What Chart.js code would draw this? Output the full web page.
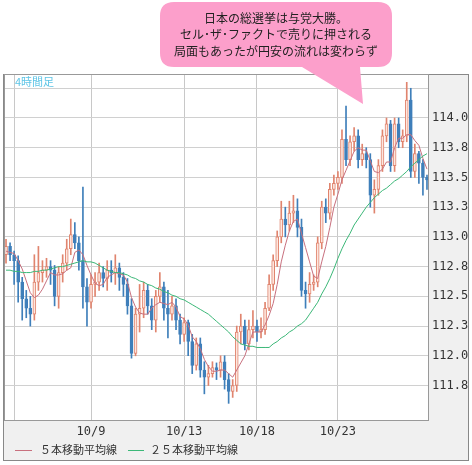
<!DOCTYPE html>
<html><head><meta charset="utf-8">
<script src="https://cdn.jsdelivr.net/npm/chart.js@4"></script>
<style>html,body{margin:0;padding:0;background:#fff}#wrap{width:472px;height:465px;position:relative}</style>
</head><body><div id="wrap"><canvas id="c" width="472" height="465"></canvas></div>
<script>
const opens=[112.85,112.92,112.85,112.80,112.62,112.48,112.40,112.35,112.62,112.70,112.72,112.75,112.72,112.50,112.70,112.78,112.90,113.02,112.95,112.80,112.58,112.45,112.60,112.62,112.70,112.65,112.72,112.70,112.74,112.66,112.60,112.42,112.02,112.35,112.40,112.55,112.42,112.30,112.50,112.58,112.40,112.35,112.42,112.30,112.18,112.28,112.12,111.92,112.10,111.88,111.82,111.85,111.90,111.88,111.95,111.80,111.70,111.75,112.20,112.25,112.10,112.22,112.25,112.20,112.22,112.40,112.60,112.80,113.00,113.15,113.10,113.20,113.22,113.08,112.55,112.52,112.60,112.62,112.95,113.25,113.20,113.40,113.45,113.50,113.82,113.65,113.80,113.85,113.65,113.70,113.65,113.35,113.40,113.60,113.85,113.95,113.60,113.95,113.80,113.85,114.15,113.55,113.70,113.62,113.50];
const closes=[112.92,112.85,112.80,112.62,112.48,112.40,112.35,112.62,112.70,112.72,112.75,112.72,112.50,112.70,112.78,112.90,113.02,112.95,112.80,112.58,112.45,112.60,112.62,112.70,112.65,112.72,112.70,112.74,112.66,112.60,112.42,112.02,112.35,112.40,112.55,112.42,112.30,112.50,112.58,112.40,112.35,112.42,112.30,112.18,112.28,112.12,111.92,112.10,111.88,111.82,111.85,111.90,111.88,111.95,111.80,111.70,111.75,112.20,112.25,112.10,112.22,112.25,112.20,112.22,112.40,112.60,112.80,113.00,113.15,113.10,113.20,113.22,113.08,112.55,112.52,112.60,112.62,112.95,113.25,113.20,113.40,113.45,113.50,113.82,113.65,113.80,113.85,113.65,113.70,113.65,113.35,113.40,113.60,113.85,113.95,113.60,113.95,113.80,113.85,114.15,113.55,113.70,113.62,113.50,113.48];
const highs=[112.98,112.95,112.88,112.84,112.66,112.55,112.50,112.85,112.92,112.80,112.82,112.80,112.76,112.75,112.85,112.98,113.15,113.12,113.00,113.42,112.65,112.68,112.70,112.78,112.75,112.80,112.80,112.85,112.78,112.70,112.65,112.48,112.40,112.60,112.62,112.60,112.48,112.55,112.70,112.62,112.55,112.50,112.48,112.35,112.32,112.30,112.18,112.15,112.15,111.95,111.92,111.95,111.94,112.00,112.00,111.85,111.80,112.25,112.35,112.30,112.30,112.38,112.30,112.32,112.45,112.68,112.85,113.05,113.30,113.25,113.30,113.35,113.32,113.15,112.62,112.70,112.68,113.00,113.30,113.32,113.45,113.52,113.55,113.90,114.10,113.85,113.92,113.90,113.78,113.75,113.70,113.48,113.65,113.90,114.00,113.98,114.00,114.00,113.90,114.30,114.25,113.78,113.72,113.65,113.52];
const lows=[112.78,112.80,112.60,112.45,112.30,112.32,112.25,112.30,112.55,112.62,112.66,112.60,112.42,112.40,112.62,112.72,112.85,112.90,112.72,112.40,112.25,112.40,112.50,112.55,112.58,112.55,112.62,112.60,112.55,112.50,112.35,111.98,112.00,112.20,112.32,112.35,112.22,112.20,112.45,112.30,112.15,112.30,112.22,112.10,112.12,112.00,111.85,111.88,111.82,111.68,111.75,111.82,111.80,111.82,111.72,111.60,111.65,111.70,112.10,112.05,112.05,112.15,112.12,112.15,112.18,112.38,112.55,112.75,112.95,113.00,113.05,113.12,113.00,112.50,112.40,112.45,112.55,112.58,112.90,113.12,113.15,113.35,113.40,113.45,113.60,113.60,113.72,113.58,113.60,113.58,113.25,113.20,113.35,113.55,113.80,113.55,113.55,113.75,113.75,113.80,113.50,113.50,113.45,113.35,113.40];
const ma5=[112.88,112.87,112.86,112.80,112.73,112.63,112.53,112.49,112.51,112.56,112.63,112.70,112.68,112.68,112.69,112.72,112.74,112.87,112.89,112.85,112.76,112.68,112.61,112.59,112.60,112.66,112.68,112.70,112.69,112.68,112.62,112.49,112.41,112.36,112.35,112.35,112.40,112.43,112.45,112.44,112.43,112.45,112.41,112.33,112.31,112.26,112.16,112.12,112.06,111.97,111.91,111.87,111.87,111.88,111.88,111.85,111.82,111.88,111.94,112.00,112.10,112.20,112.20,112.20,112.26,112.34,112.44,112.60,112.79,112.93,113.05,113.13,113.15,113.03,112.91,112.79,112.67,112.65,112.79,112.92,113.08,113.25,113.36,113.48,113.56,113.64,113.72,113.75,113.73,113.73,113.64,113.55,113.54,113.57,113.63,113.63,113.75,113.83,113.83,113.86,113.86,113.81,113.77,113.66,113.57];
const ma25=[112.72,112.72,112.71,112.71,112.70,112.70,112.70,112.71,112.71,112.72,112.72,112.73,112.74,112.75,112.75,112.76,112.77,112.78,112.79,112.80,112.79,112.79,112.78,112.76,112.74,112.72,112.71,112.70,112.70,112.69,112.68,112.66,112.65,112.63,112.62,112.60,112.59,112.57,112.56,112.54,112.53,112.51,112.50,112.48,112.47,112.45,112.43,112.41,112.39,112.37,112.35,112.32,112.29,112.26,112.23,112.20,112.16,112.13,112.10,112.09,112.08,112.08,112.07,112.07,112.07,112.07,112.10,112.12,112.15,112.17,112.20,112.22,112.25,112.27,112.30,112.35,112.40,112.45,112.52,112.58,112.65,112.73,112.82,112.90,112.97,113.03,113.10,113.15,113.20,113.25,113.29,113.33,113.36,113.39,113.41,113.44,113.47,113.49,113.52,113.55,113.59,113.62,113.65,113.68,113.70];
const dateLabels={2:'',21:'10/9',44:'10/13',62:'10/18',82:'10/23'};
const yTicks=[111.75,112.0,112.25,112.5,112.75,113.0,113.25,113.5,113.75,114.0,114.25];
const legendNames=['５本移動平均線','２５本移動平均線'];
const noteLines=['日本の総選挙は与党大勝。','セル･ザ･ファクトで売りに押される','局面もあったが円安の流れは変わらず'];
const cats=closes.map((_,i)=>i);
const UP_B='#e0846e',UP_F='#fde6de',DN='#3f7fba';
const up=closes.map((c,i)=>c>=opens[i]);
const deco={id:'deco',
 beforeDraw(ch){const g=ch.ctx;g.save();g.fillStyle='#f0f0f0';g.fillRect(3,74,466,387);g.fillStyle='#fff';const a=ch.chartArea;g.fillRect(a.left,a.top,a.right-a.left,a.bottom-a.top);g.restore();},
 afterDraw(ch){const g=ch.ctx,a=ch.chartArea;g.save();
  g.strokeStyle='#888';g.lineWidth=1;g.strokeRect(3.5,74.5,465,386);
  g.strokeStyle='#999';g.strokeRect(a.left+0.5,a.top+0.5,a.right-a.left-1,a.bottom-a.top);
  g.fillStyle='#5cc4e6';g.font='11px "Noto Sans CJK JP"';g.textBaseline='middle';g.fillText('4時間足',15,82);
  g.font='11px "Noto Sans CJK JP"';g.fillStyle='#333';
  g.strokeStyle='#c8707e';g.beginPath();g.moveTo(15,450.5);g.lineTo(32,450.5);g.stroke();g.fillText(legendNames[0],40,450);
  g.strokeStyle='#3cb878';g.beginPath();g.moveTo(128,450.5);g.lineTo(144,450.5);g.stroke();g.fillText(legendNames[1],150,450);
  g.fillStyle='#fc9fcb';g.beginPath();
  const x0=160,y0=2,x1=392,y1=67,r=14;
  g.moveTo(x0+r,y0);g.lineTo(x1-r,y0);g.quadraticCurveTo(x1,y0,x1,y0+r);g.lineTo(x1,y1-r);g.quadraticCurveTo(x1,y1,x1-r,y1);
  g.lineTo(360,y1);g.lineTo(363,104);g.lineTo(302,y1);
  g.lineTo(x0+r,y1);g.quadraticCurveTo(x0,y1,x0,y1-r);g.lineTo(x0,y0+r);g.quadraticCurveTo(x0,y0,x0+r,y0);g.closePath();g.fill();
  g.fillStyle='#222';g.textAlign='center';g.font='12px "Noto Sans CJK JP"';
  noteLines.forEach((t,i)=>g.fillText(t,276,18+i*16.5));
  g.restore();}};
new Chart(document.getElementById('c'),{
 data:{labels:cats,datasets:[
  {type:'line',data:ma25,borderColor:'#3cb878',borderWidth:1,pointRadius:0,order:0},
  {type:'line',data:ma5,borderColor:'#c8707e',borderWidth:1,pointRadius:0,order:1},
  {type:'bar',data:closes.map((c,i)=>[opens[i],c]),backgroundColor:up.map(u=>u?UP_F:DN),borderColor:up.map(u=>u?UP_B:DN),borderWidth:1,borderSkipped:false,barThickness:3,grouped:false,order:2},
  {type:'bar',data:closes.map((c,i)=>[lows[i],highs[i]]),backgroundColor:up.map(u=>u?UP_B:DN),barThickness:1,grouped:false,order:3}
 ]},
 options:{responsive:false,animation:false,
  layout:{padding:{top:74,left:4,right:3,bottom:4}},
  plugins:{legend:{display:false},tooltip:{enabled:false}},
  scales:{
   x:{offset:true,grid:{offset:false,color:ctx=>(ctx.tick&&dateLabels[ctx.tick.value]!==undefined)?'#c8c8c8':'rgba(0,0,0,0)',drawTicks:false},border:{display:false},
      afterFit(s){s.height=41;},
      ticks:{autoSkip:false,maxRotation:0,padding:5,color:'#333',font:{family:'DejaVu Sans Mono',size:12},callback:v=>dateLabels[v]||''}},
   y:{position:'right',min:111.46,max:114.37,border:{display:false},grid:{color:'#d0d0d0',drawTicks:false},
      afterBuildTicks(s){s.ticks=yTicks.map(v=>({value:v}));},
      afterFit(s){s.width=40;},
      ticks:{padding:3,color:'#333',font:{family:'DejaVu Sans Mono',size:12},callback:v=>v>114.1?'':v.toFixed(1)}}
  }},
 plugins:[deco]});
</script></body></html>
